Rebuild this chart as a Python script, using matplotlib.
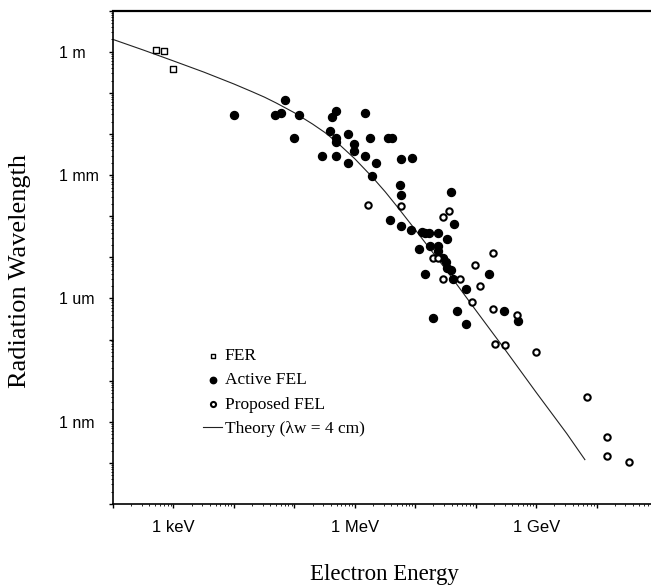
import numpy as np
import matplotlib.pyplot as plt
from matplotlib.ticker import LogLocator, NullFormatter

plt.rcParams['font.family'] = ['Liberation Sans', 'DejaVu Sans']

# electron energy in eV, radiation wavelength in m
fer_E = [524, 710, 1000]
fer_wl = [1.12, 1.06, 0.386]

active_E = [1.02e4, 4.85e4, 6.1e4, 7.1e4, 1.21e5, 1.0e5, 2.9e5, 3.94e5, 4.94e5, 4.25e5,
            1.49e6, 7.8e5, 4.94e5, 4.94e5, 1.80e6, 3.58e6, 4.17e6, 9.8e5, 9.8e5, 4.94e5,
            1.49e6, 7.8e5, 2.26e6, 5.87e6, 8.9e6, 1.95e6, 5.65e6, 5.87e6, 3.94e7, 3.86e6,
            5.87e6, 8.6e6, 4.42e7, 1.31e7, 1.46e7, 1.70e7, 2.40e7, 3.38e7, 1.16e7, 1.77e7,
            2.40e7, 2.40e7, 2.90e7, 3.25e7, 3.38e7, 3.94e7, 1.67e8, 1.46e7, 4.25e7, 6.97e7,
            1.99e7, 4.94e7, 6.97e7, 2.96e8, 5.04e8]
active_wl = [0.0294, 0.0294, 0.0328, 0.068, 0.0294, 8.1e-3, 2.95e-3, 0.012, 0.0367, 0.0262,
             0.0328, 0.0101, 8.1e-3, 6.47e-3, 8.1e-3, 8.1e-3, 8.1e-3, 5.78e-3, 3.91e-3, 2.95e-3,
             2.95e-3, 2.0e-3, 2.0e-3, 2.5e-3, 2.64e-3, 9.6e-4, 5.8e-4, 3.32e-4, 3.93e-4, 8.2e-5,
             5.85e-5, 4.68e-5, 6.55e-5, 4.18e-5, 3.95e-5, 3.95e-5, 3.95e-5, 2.83e-5, 1.61e-5, 1.91e-5,
             1.91e-5, 1.44e-5, 9.75e-6, 7.8e-6, 5.57e-6, 4.98e-6, 3.98e-6, 3.98e-6, 3.01e-6, 1.72e-6,
             3.39e-7, 5.01e-7, 2.42e-7, 5.01e-7, 2.86e-7]

proposed_E = [1.67e6, 5.87e6, 3.65e7, 2.90e7, 1.99e7, 2.40e7, 1.95e8, 9.8e7, 2.90e7, 5.55e7,
              1.19e8, 8.75e7, 1.95e8, 4.85e8, 2.10e8, 3.08e8, 1.0e9, 6.97e9, 1.49e10, 1.49e10,
              3.44e10]
proposed_wl = [1.90e-4, 1.79e-4, 1.36e-4, 9.7e-5, 9.75e-6, 9.75e-6, 1.29e-5, 6.59e-6, 3.01e-6, 3.01e-6,
               2.03e-6, 8.3e-7, 5.6e-7, 4.0e-7, 7.9e-8, 7.5e-8, 5.04e-8, 4.05e-9, 4.3e-10, 1.49e-10,
               1.06e-10]

theory_E = [1e2, 3.2e2, 1e3, 3.2e3, 1e4, 2e4, 3.2e4, 5e4, 1e5, 2e5, 3.2e5, 5e5, 1e6, 2e6,
            3.2e6, 5e6, 1e7, 3.2e7, 1e8, 3.2e8, 1e9, 3.2e9, 6.4e9]
theory_wl = [2.0, 1.1, 0.60, 0.32, 0.165, 0.107, 0.079, 0.057, 0.033, 0.0175, 0.0109, 6.4e-3,
             2.5e-3, 8.6e-4, 3.9e-4, 1.73e-4, 4.7e-5, 5.1e-6, 5.2e-7, 5.2e-8, 5.2e-9, 5.2e-10, 1.2e-10]

x_ticks = [1e3, 1e6, 1e9]
x_labels = ['1 keV', '1 MeV', '1 GeV']
y_ticks = [1, 1e-3, 1e-6, 1e-9]
y_labels = ['1 m', '1 mm', '1 um', '1 nm']

fig = plt.figure(figsize=(6.51, 5.86), dpi=100)
ax = fig.add_axes([113 / 651, 82 / 586, 538 / 651, 493.3 / 586])
ax.set_xscale('log')
ax.set_yscale('log')

line, = ax.plot(theory_E, theory_wl, color='#222222', lw=0.8)
sq = ax.scatter(fer_E, fer_wl, marker='s', s=18, facecolor='white', edgecolor='black', linewidth=1.0, zorder=3)
act = ax.scatter(active_E, active_wl, marker='o', s=33, color='black', zorder=3)
prop = ax.scatter(proposed_E, proposed_wl, marker='o', s=21, facecolor='white', edgecolor='black',
                  linewidth=1.5, zorder=3)

ax.set_xlim(1e2, 10 ** 10.9)
ax.set_ylim(1e-11, 10)

# major ticks every decade, labels only on some
xt = [10.0 ** k for k in range(2, 11)]
ax.set_xticks(xt, [x_labels[x_ticks.index(v)] if v in x_ticks else '' for v in xt])
yt = [10.0 ** k for k in range(-11, 2)]
ax.set_yticks(yt, [y_labels[y_ticks.index(v)] if v in y_ticks else '' for v in yt])
ax.xaxis.set_minor_locator(LogLocator(base=10, subs=np.arange(2, 10), numticks=20))
ax.yaxis.set_minor_locator(LogLocator(base=10, subs=np.arange(2, 10), numticks=20))
ax.xaxis.set_minor_formatter(NullFormatter())
ax.yaxis.set_minor_formatter(NullFormatter())

ax.tick_params(which='major', direction='out', length=3.2, width=1.0)
ax.tick_params(which='minor', direction='out', length=1.6, width=0.6)
ax.tick_params(axis='x', labelsize=12, pad=8.5)
ax.tick_params(axis='y', labelsize=11.5, pad=36)
for lab in ax.get_yticklabels():
    lab.set_horizontalalignment('left')

ax.spines['right'].set_visible(False)
ax.spines['top'].set_linewidth(1.6)
ax.spines['left'].set_linewidth(1.2)
ax.spines['bottom'].set_linewidth(1.2)

ax.legend([sq, act, prop, line], ['FER', 'Active FEL', 'Proposed FEL', 'Theory (λw = 4 cm)'],
          loc='upper left', bbox_to_anchor=(203 / 651, 1 - 348 / 586), bbox_transform=fig.transFigure,
          frameon=False, borderpad=0, borderaxespad=0, handlelength=1.1, handletextpad=0.15,
          labelspacing=0.47, markerscale=0.8,
          prop={'family': 'Liberation Serif', 'size': 12.5})

fig.text(20 / 651, 1 - 271 / 586, 'Radiation Wavelength', rotation=90, ha='center', va='center',
         family='Liberation Serif', size=19)
fig.text(384 / 651, 6 / 586, 'Electron Energy', ha='center', va='baseline',
         family='Liberation Serif', size=16.5)

fig.savefig('out.png', dpi=100)
